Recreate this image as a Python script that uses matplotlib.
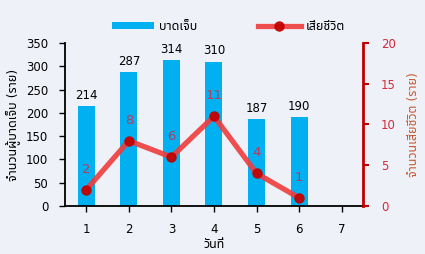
import matplotlib
matplotlib.use("Agg")
import matplotlib.pyplot as plt

plt.rcParams["font.family"] = ["DejaVu Sans", "Noto Sans Thai UI"]

# ข้อมูลรายวัน
days = [1, 2, 3, 4, 5, 6]
injured = [214, 287, 314, 310, 187, 190]
deaths = [2, 8, 6, 11, 4, 1]
xticks = [1, 2, 3, 4, 5, 6, 7]

BG = "#EEF1F8"
BAR = "#00B0F0"
LINE = "#F03C3C"
DARKRED = "#C00000"


def main():
    fig = plt.figure(figsize=(4.25, 2.54), dpi=100, facecolor=BG)
    ax = fig.add_axes([0.153, 0.189, 0.701, 0.642], facecolor=BG)
    ax2 = ax.twinx()

    bars = ax.bar(days, injured, width=0.4, color=BAR, label="บาดเจ็บ", zorder=2)
    ax.bar_label(bars, padding=3, fontsize=8.5, color="black")
    ax.set_xlim(0.5, 7.5)
    ax.set_ylim(0, 350)
    ax.set_yticks(range(0, 351, 50))
    ax.set_xticks(xticks)
    ax.tick_params(axis="both", labelsize=8.5, length=4, width=1)
    ax.tick_params(axis="y", pad=8)
    ax.tick_params(axis="x", pad=8)
    ax.set_ylabel("จำนวนผู้บาดเจ็บ (ราย)", fontsize=9, labelpad=4)
    ax.set_xlabel("วันที่", fontsize=9, labelpad=2)

    ln, = ax2.plot(days, deaths, color=LINE, lw=3.8, alpha=0.9,
                   marker="o", markersize=6.5, markerfacecolor=DARKRED,
                   markeredgecolor=DARKRED, label="เสียชีวิต", zorder=3)
    for x, y in zip(days, deaths):
        ax2.annotate(str(y), (x, y), xytext=(0, 10), textcoords="offset points",
                     ha="center", va="bottom", fontsize=9.5, color="#B23C62")
    ax2.set_ylim(0, 20)
    ax2.set_yticks(range(0, 21, 5))
    ax2.tick_params(axis="y", labelsize=8.5, colors="#D42A3A", length=4,
                    width=1.5, pad=9)
    ax2.set_ylabel("จำนวนเสียชีวิต (ราย)", fontsize=9, color="#C65A32", labelpad=8)

    for a in (ax, ax2):
        a.spines["top"].set_visible(False)
    ax.spines["right"].set_visible(False)
    ax2.spines["left"].set_visible(False)
    ax2.spines["bottom"].set_visible(False)
    ax.spines["left"].set_linewidth(1.3)
    ax.spines["bottom"].set_linewidth(1.3)
    ax2.spines["right"].set_color(DARKRED)
    ax2.spines["right"].set_linewidth(2)
    ax2.tick_params(axis="y", which="both", color=DARKRED)

    fig.legend(handles=[bars, ln], loc="center", bbox_to_anchor=(0.537, 0.897),
               ncol=2, frameon=False, fontsize=9, handlelength=3.4,
               handleheight=0.5, columnspacing=4.85, handletextpad=0.4)

    fig.savefig("out.png", dpi=100, facecolor=BG)
    plt.close(fig)


if __name__ == "__main__":
    main()
